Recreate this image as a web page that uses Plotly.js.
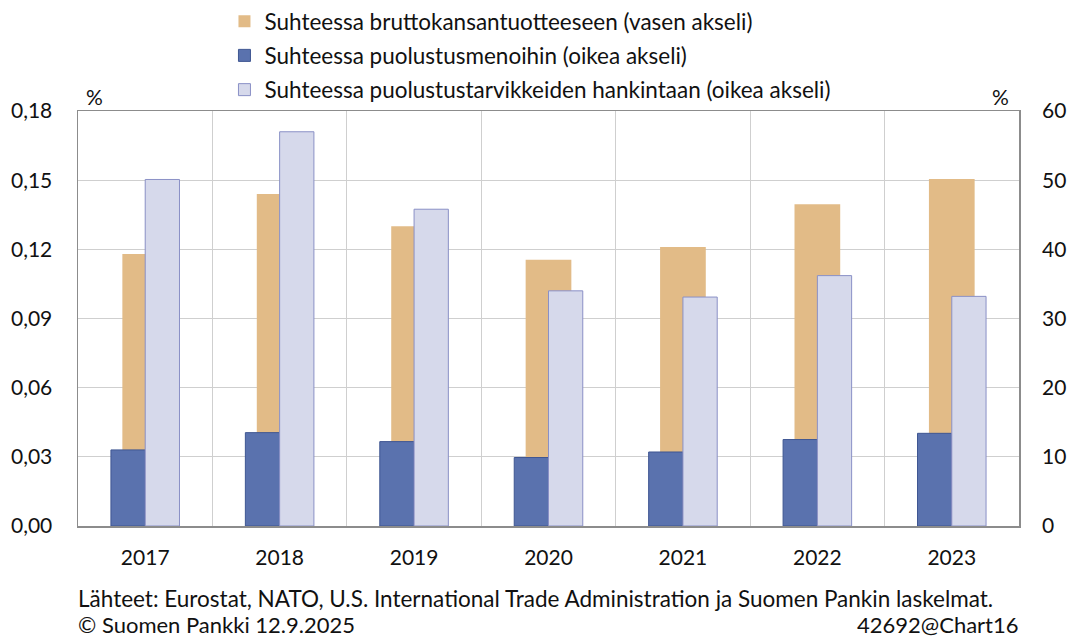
<!DOCTYPE html>
<html>
<head>
<meta charset="utf-8">
<script src="https://cdn.plot.ly/plotly-3.0.1.min.js"></script>
<style>
  html, body { margin: 0; padding: 0; background: #fff; }
  #chart { width: 1074px; height: 637px; }
</style>
</head>
<body>
<div id="chart"></div>
<script>
// vuodet
const vuodet = ["2017", "2018", "2019", "2020", "2021", "2022", "2023"]

// suhteessa BKT:hen, % (vasen akseli)
const bktOsuus = [0.118, 0.144, 0.130, 0.1155, 0.121, 0.1395, 0.1505]
// suhteessa puolustusmenoihin, % (oikea akseli)
const menoOsuus = [11.0, 13.5, 12.2, 9.9, 10.7, 12.5, 13.4]
// suhteessa puolustustarvikkeiden hankintaan, % (oikea akseli)
const hankintaOsuus = [50.1, 57.0, 45.8, 34.0, 33.1, 36.2, 33.2]

const nimet = [
  "Suhteessa bruttokansantuotteeseen (vasen akseli)",
  "Suhteessa puolustusmenoihin (oikea akseli)",
  "Suhteessa puolustustarvikkeiden hankintaan (oikea akseli)",
]

const fontti = "Lato, 'Open Sans', sans-serif"

const data = [
  {
    x: vuodet, y: bktOsuus, name: nimet[0], type: "bar", yaxis: "y",
    offset: -0.17, width: 0.34, legendgroup: "a",
    marker: { color: "#E2BB87", line: { color: "#E2BB87", width: 0 } },
  },
  {
    x: vuodet, y: menoOsuus, name: nimet[1], type: "bar", yaxis: "y2",
    offset: -0.255, width: 0.255, legendgroup: "b",
    marker: { color: "#5A72AE", line: { color: "#3F5692", width: 1 } },
  },
  {
    x: vuodet, y: hankintaOsuus, name: nimet[2], type: "bar", yaxis: "y2",
    offset: 0, width: 0.255, legendgroup: "c",
    marker: { color: "#D6D9EB", line: { color: "#8A90C6", width: 1 } },
  },
]

const layout = {
  width: 1074,
  height: 637,
  margin: { l: 78, r: 55, t: 111, b: 111, autoexpand: false },
  paper_bgcolor: "#fff",
  plot_bgcolor: "#fff",
  font: { family: fontti, size: 21, color: "#111" },
  separators: ", ",
  barmode: "overlay",
  showlegend: true,
  legend: {
    xref: "container", yref: "container",
    x: 0.209, y: 1.0, xanchor: "left", yanchor: "top",
    orientation: "v",
    traceorder: "grouped",
    tracegroupgap: 2,
    font: { family: fontti, size: 22.5, color: "#111" },
    bgcolor: "rgba(0,0,0,0)",
    itemwidth: 30,
  },
  xaxis: {
    type: "category",
    tickson: "boundaries",
    showgrid: true,
    gridcolor: "#CFCFCF",
    gridwidth: 1,
    showline: true,
    linecolor: "#8C8C8C",
    linewidth: 1.5,
    mirror: true,
    ticks: "",
    tickangle: 0,
    ticklabelstandoff: 12,
    tickfont: { size: 21 },
  },
  yaxis: {
    range: [0, 0.18],
    dtick: 0.03,
    tickformat: ".2f",
    showgrid: true,
    gridcolor: "#CFCFCF",
    gridwidth: 1,
    zeroline: false,
    showline: true,
    linecolor: "#8C8C8C",
    linewidth: 1.5,
    mirror: true,
    ticks: "",
    ticklabelstandoff: 20,
    tickfont: { size: 21 },
  },
  yaxis2: {
    range: [0, 60],
    dtick: 10,
    overlaying: "y",
    side: "right",
    showgrid: false,
    zeroline: false,
    showline: false,
    ticks: "",
    ticklabelstandoff: 22,
    tickfont: { size: 21 },
  },
  annotations: [
    { text: "%", xref: "paper", yref: "paper", x: 0.018, y: 1.034, xanchor: "center", yanchor: "middle", showarrow: false, font: { size: 21 } },
    { text: "%", xref: "paper", yref: "paper", x: 0.98, y: 1.034, xanchor: "center", yanchor: "middle", showarrow: false, font: { size: 21 } },
    {
      text: "Lähteet: Eurostat, NATO, U.S. International Trade Administration ja Suomen Pankin laskelmat.",
      xref: "paper", yref: "paper", x: 0, y: -0.1735, xanchor: "left", yanchor: "middle", xshift: -2,
      showarrow: false, font: { size: 22.5 },
    },
    {
      text: "© Suomen Pankki 12.9.2025",
      xref: "paper", yref: "paper", x: 0, y: -0.2365, xanchor: "left", yanchor: "middle", xshift: -2,
      showarrow: false, font: { size: 22 },
    },
    {
      text: "42692@Chart16",
      xref: "paper", yref: "paper", x: 1, y: -0.2365, xanchor: "right", yanchor: "middle", xshift: 2,
      showarrow: false, font: { size: 22 },
    },
  ],
}

Plotly.newPlot("chart", data, layout, { staticPlot: true, displayModeBar: false })
</script>
</body>
</html>
